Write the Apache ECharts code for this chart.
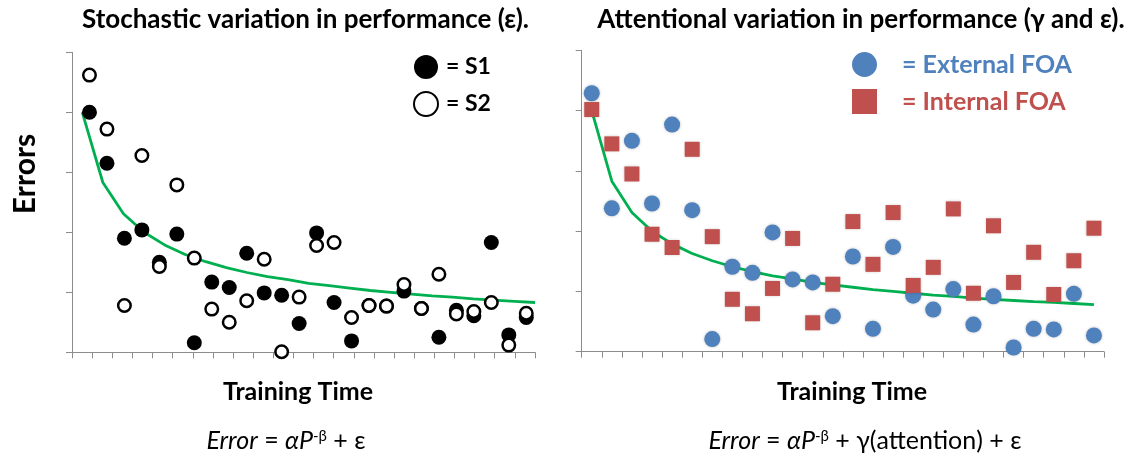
<!DOCTYPE html>
<html>
<head>
<meta charset="utf-8">
<script src="https://cdn.jsdelivr.net/npm/echarts@6/dist/echarts.min.js"></script>
<style>
  html, body { margin: 0; padding: 0; background: #ffffff; }
  #chart { width: 1134px; height: 462px; }
</style>
</head>
<body>
<div id="chart"></div>
<script>
// ---- Left panel: trial-by-trial errors of two subjects ----
const trialNumbers = [1, 2, 3, 4, 5, 6, 7, 8, 9, 10, 11, 12, 13, 14, 15, 16, 17, 18, 19, 20, 21, 22, 23, 24, 25, 26];
const s1Errors = [4.00, 3.15, 1.90, 2.04, 1.50, 1.97, 0.16, 1.17, 1.08, 1.65, 0.99, 0.95, 0.48,
                  1.99, 0.83, 0.19, 0.78, 0.77, 1.02, 0.73, 0.25, 0.70, 0.61, 1.83, 0.29, 0.58];
const s2Errors = [4.62, 3.72, 0.78, 3.28, 1.43, 2.79, 1.57, 0.72, 0.50, 0.86, 1.55, 0.01, 0.92,
                  1.78, 1.83, 0.58, 0.78, 0.77, 1.13, 0.73, 1.30, 0.64, 0.68, 0.83, 0.12, 0.65];
// Power-law learning curve over practice blocks
const leftBlocks = ['1', '2', '3', '4', '5', '6', '7', '8', '9', '10', '11', '12', '13', '14', '15', '16', '17', '18', '19', '20', '21', '22', '23'];
const leftCurve = [4.00, 2.83, 2.31, 2.00, 1.79, 1.63, 1.51, 1.41, 1.33, 1.26, 1.21, 1.15,
                   1.11, 1.07, 1.03, 1.00, 0.97, 0.94, 0.92, 0.89, 0.87, 0.85, 0.83];

// ---- Right panel: errors by focus of attention ----
const rightBlocks = ['1', '2', '3', '4', '5', '6', '7', '8', '9', '10', '11', '12', '13', '14', '15', '16', '17', '18', '19', '20', '21', '22', '23', '24', '25', '26'];
const externalErrors = [4.29, 2.38, 3.50, 2.46, 3.77, 2.35, 0.21, 1.41, 1.31, 1.98, 1.20, 1.15, 0.59,
                        1.58, 0.38, 1.74, 0.93, 0.70, 1.04, 0.45, 0.92, 0.07, 0.38, 0.37, 0.96, 0.27];
const internalErrors = [4.02, 3.45, 2.95, 1.95, 1.73, 3.36, 1.91, 0.87, 0.63, 1.05, 1.88, 0.48, 1.12,
                        2.16, 1.45, 2.31, 1.10, 1.40, 2.37, 0.97, 2.09, 1.15, 1.65, 0.95, 1.51, 2.05];
const rightCurve = [4.00, 2.83, 2.31, 2.00, 1.79, 1.63, 1.51, 1.41, 1.33, 1.26, 1.21, 1.15, 1.11,
                    1.07, 1.03, 1.00, 0.97, 0.94, 0.92, 0.89, 0.87, 0.85, 0.83, 0.82, 0.80, 0.78];

const FONT = 'Lato, "Open Sans", sans-serif';
const AXIS_GREY = '#8c8c8c';
const GREEN = '#00b050';
const BLUE = '#4f81bd';
const RED = '#c0504d';

const pairs = (xs, ys) => ys.map((y, i) => [xs[i], y]);

const valueY = (gridIndex) => ({
  type: 'value', gridIndex, min: 0, max: 5, interval: 1,
  axisLabel: { show: false },
  splitLine: { show: false },
  axisLine: { show: true, lineStyle: { color: AXIS_GREY, width: 1 } },
  axisTick: { show: true, length: 6, lineStyle: { color: AXIS_GREY } }
});

const catX = (gridIndex, data) => ({
  type: 'category', gridIndex, data, boundaryGap: true,
  axisLabel: { show: false },
  axisLine: { show: true, lineStyle: { color: AXIS_GREY, width: 1 } },
  axisTick: { show: true, length: 6, lineStyle: { color: AXIS_GREY } }
});

const formulaRich = {
  it: { fontStyle: 'italic', fontSize: 25, fontFamily: FONT },
  sup: { fontSize: 15, fontFamily: FONT, verticalAlign: 'top' }
};

const chart = echarts.init(document.getElementById('chart'), null, { renderer: 'canvas' });

chart.setOption({
  animation: false,
  backgroundColor: '#ffffff',
  grid: [
    { left: 72, top: 52.3, width: 463, height: 300 },
    { left: 581.7, top: 50.5, width: 522.3, height: 301.2 }
  ],
  xAxis: [
    catX(0, leftBlocks),
    { type: 'value', gridIndex: 0, min: 0, max: 26.5, show: false },
    { type: 'value', gridIndex: 0, min: 0.5, max: 23, show: false },
    catX(1, rightBlocks)
  ],
  yAxis: [valueY(0), valueY(1)],
  legend: [
    {
      orient: 'vertical', left: 413, top: 55, padding: 0,
      itemWidth: 24, itemHeight: 24, itemGap: 12,
      data: ['S1', 'S2'],
      formatter: (name) => '= ' + name,
      textStyle: { fontFamily: FONT, fontWeight: 'bold', fontSize: 23, color: '#000000', padding: [0, 0, 0, 3] }
    },
    {
      orient: 'vertical', left: 852, top: 52, padding: 0,
      itemWidth: 25, itemHeight: 25, itemGap: 12,
      data: [
        { name: 'External FOA', icon: 'circle', textStyle: { color: BLUE } },
        { name: 'Internal FOA', icon: 'rect', textStyle: { color: RED } }
      ],
      formatter: (name) => '= ' + name,
      textStyle: { fontFamily: FONT, fontWeight: 'bold', fontSize: 25, padding: [0, 0, 0, 20] }
    }
  ],
  series: [
    {
      name: 'Power law (left)', type: 'line', xAxisIndex: 2, yAxisIndex: 0,
      data: pairs(leftBlocks.map(Number), leftCurve),
      symbol: 'none', lineStyle: { color: GREEN, width: 2.8 }, z: 1
    },
    {
      name: 'S1', type: 'scatter', xAxisIndex: 1, yAxisIndex: 0,
      data: pairs(trialNumbers, s1Errors),
      symbol: 'circle', symbolSize: 15,
      itemStyle: { color: '#000000', opacity: 1 }, z: 2
    },
    {
      name: 'S2', type: 'scatter', xAxisIndex: 1, yAxisIndex: 0,
      data: pairs(trialNumbers, s2Errors),
      symbol: 'circle', symbolSize: 12.5,
      itemStyle: { color: '#ffffff', borderColor: '#000000', borderWidth: 2.5, opacity: 1 }, z: 3
    },
    {
      name: 'Power law (right)', type: 'line', xAxisIndex: 3, yAxisIndex: 1,
      data: rightCurve,
      symbol: 'none', lineStyle: { color: GREEN, width: 2.8 }, z: 1
    },
    {
      name: 'External FOA', type: 'scatter', xAxisIndex: 3, yAxisIndex: 1,
      data: externalErrors,
      symbol: 'circle', symbolSize: 16,
      itemStyle: { color: BLUE, opacity: 1, shadowBlur: 3, shadowColor: 'rgba(0,0,0,0.25)' }, z: 2
    },
    {
      name: 'Internal FOA', type: 'scatter', xAxisIndex: 3, yAxisIndex: 1,
      data: internalErrors,
      symbol: 'rect', symbolSize: 15,
      itemStyle: { color: RED, opacity: 1, shadowBlur: 3, shadowColor: 'rgba(0,0,0,0.25)' }, z: 3
    }
  ],
  graphic: [
    {
      type: 'text', x: 305.5, y: 20,
      style: { text: 'Stochastic variation in performance (ε).', font: 'bold 26px ' + FONT, fill: '#000', align: 'center', verticalAlign: 'middle' }
    },
    {
      type: 'text', x: 861, y: 20,
      style: { text: 'Attentional variation in performance (γ and ε).', font: 'bold 26px ' + FONT, fill: '#000', align: 'center', verticalAlign: 'middle' }
    },
    {
      type: 'text', x: 25, y: 174, rotation: Math.PI / 2,
      style: { text: 'Errors', font: 'bold 30px ' + FONT, fill: '#000', align: 'center', verticalAlign: 'middle' }
    },
    {
      type: 'text', x: 298, y: 392,
      style: { text: 'Training Time', font: 'bold 25px ' + FONT, fill: '#000', align: 'center', verticalAlign: 'middle' }
    },
    {
      type: 'text', x: 852, y: 392,
      style: { text: 'Training Time', font: 'bold 25px ' + FONT, fill: '#000', align: 'center', verticalAlign: 'middle' }
    },
    {
      type: 'text', x: 286, y: 441,
      style: {
        text: '{it|Error} = {it|αP}{sup|-β} + ε',
        font: '25px ' + FONT, fill: '#000', align: 'center', verticalAlign: 'middle',
        rich: formulaRich
      }
    },
    {
      type: 'text', x: 865, y: 441,
      style: {
        text: '{it|Error} = {it|αP}{sup|-β} + γ(attention) + ε',
        font: '25px ' + FONT, fill: '#000', align: 'center', verticalAlign: 'middle',
        rich: formulaRich
      }
    }
  ]
});
</script>
</body>
</html>
